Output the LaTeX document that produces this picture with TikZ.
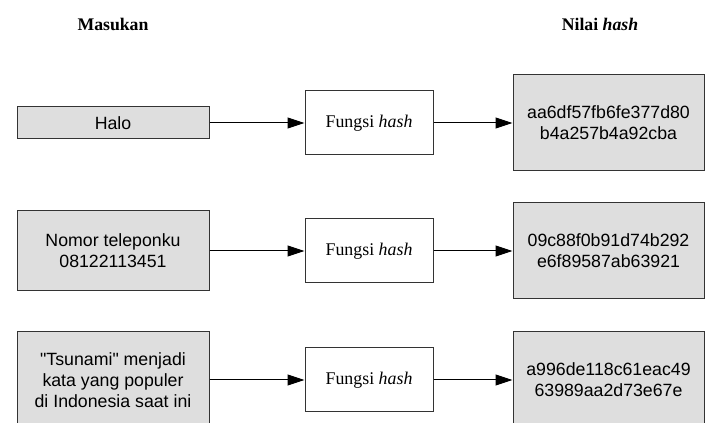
\documentclass[tikz,border=0pt]{standalone}
\usepackage{fontspec}
\setmainfont{Liberation Serif}
\newfontfamily\arial{Liberation Sans}
\usepackage{tikz}
\usetikzlibrary{arrows.meta}

\begin{document}
\begin{tikzpicture}[x=0.75pt, y=-0.75pt,
		box/.style={draw=black!80, line width=0.75pt, inner sep=0pt, align=center},
		masuk/.style={box, fill=black!13, minimum width=144pt, font=\arial\fontsize{13.3}{15.75}\selectfont},
		fungsi/.style={box, fill=white, minimum width=96pt, minimum height=48pt, font=\fontsize{13.4}{15.75}\selectfont},
		nilai/.style={box, fill=black!13, minimum width=143.25pt, minimum height=72pt, font=\arial\fontsize{13.3}{15.75}\selectfont},
		judul/.style={font=\bfseries\fontsize{13.3}{15}\selectfont},
		panah/.style={line width=0.75pt, -{Triangle[length=12.75pt, width=8.25pt]}}]
	\useasboundingbox (0,0) rectangle (710,423);
	\clip (0,0) rectangle (710,423);
	
	\node[judul] (jmasuk) at (113,24) {Masukan};
	\node[judul] (jnilai) at (600,24) {Nilai \textit{hash}};
	
	\node[masuk, minimum height=24pt] (in1) at (113,123) {Halo};
	\node[fungsi] (fn1) at (369,123) {Fungsi \textit{hash}};
	\node[nilai] (out1) at (608.5,123) {aa6df57fb6fe377d80\\b4a257b4a92cba};
	
	\node[masuk, minimum height=60pt] (in2) at (113,251) {Nomor teleponku\\08122113451};
	\node[fungsi] (fn2) at (369,251) {Fungsi \textit{hash}};
	\node[nilai] (out2) at (608.5,251) {09c88f0b91d74b292\\e6f89587ab63921};
	
	\node[masuk, minimum height=72pt] (in3) at (113,380) {"Tsunami" menjadi\\kata yang populer\\di Indonesia saat ini};
	\node[fungsi] (fn3) at (369,380) {Fungsi \textit{hash}};
	\node[nilai] (out3) at (608.5,380) {a996de118c61eac49\\63989aa2d73e67e};
	
	\draw[panah] (in1) -- (fn1);
	\draw[panah] (fn1) -- (out1);
	\draw[panah] (in2) -- (fn2);
	\draw[panah] (fn2) -- (out2);
	\draw[panah] (in3) -- (fn3);
	\draw[panah] (fn3) -- (out3);
\end{tikzpicture}
\end{document}
